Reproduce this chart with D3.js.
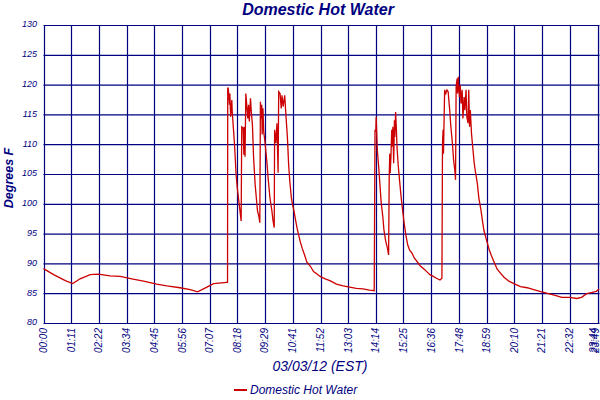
<!DOCTYPE html>
<html>
<head>
<meta charset="utf-8">
<script src="https://cdn.jsdelivr.net/npm/d3@7"></script>
<style>
  body { margin: 0; background: #fff; }
  text { font-family: "Liberation Sans", Arial, sans-serif; fill: #000080; }
</style>
</head>
<body>
<div id="chart"></div>
<script>
// Readings of the domestic hot water sensor, minutes after midnight / deg F
const times = [
  0, 26, 56, 75, 94, 120, 141, 171, 197, 227, 257, 291, 317, 351, 377, 396, 420, 437, 471,
  473, 473.5, 475, 478, 479, 481, 484, 485, 488, 491, 495, 498, 501, 505, 508,
  509.5, 513, 515, 516, 518, 520, 523, 525, 527, 529, 532, 534, 537, 540, 544, 547, 550, 554, 556,
  557.5, 559, 561, 562, 564, 566, 569, 574, 578, 582, 587, 590, 593,
  594, 597, 600, 603, 604.5, 608, 611, 613, 616, 620, 623, 627, 630, 633, 637, 640,
  644, 648, 652, 656, 660, 665, 671, 677, 686, 694, 703, 711, 724, 736, 753, 770, 787, 804, 821, 838, 850,
  852, 854, 855, 856, 858, 862, 865, 868, 872, 875, 879, 884, 887,
  888.5, 890, 891, 893, 895, 896, 898, 900, 902, 903, 905, 907, 909, 912, 915, 919, 923, 927, 932, 936,
  941, 947, 953, 960, 968, 977, 985, 993, 1002, 1010, 1019, 1024,
  1025.5, 1027, 1028, 1031, 1034, 1037, 1040, 1044, 1047, 1051, 1054, 1057, 1059,
  1060.5, 1063, 1064, 1066, 1067, 1069, 1071, 1073, 1076, 1078, 1081, 1083, 1086, 1088, 1091, 1093, 1095,
  1097, 1100, 1103, 1107, 1110, 1115, 1119, 1124, 1128, 1132, 1139, 1145, 1151, 1158, 1166, 1175, 1183,
  1196, 1209, 1226, 1243, 1260, 1280, 1298, 1315, 1332, 1353, 1370, 1383, 1396, 1408, 1421, 1428
];
const temps = [
  89.2, 88.2, 87.2, 86.7, 87.5, 88.2, 88.3, 88.0, 87.9, 87.5, 87.1, 86.6, 86.3, 86.0, 85.7, 85.3, 86.1, 86.7, 86.9,
  86.9, 119.6, 119.4, 116.7, 118.6, 114.7, 117.5, 115.6, 112.8, 110.0, 105.0, 102.8, 101.1, 98.9, 97.2,
  113.0, 112.8, 108.3, 113.0, 108.0, 118.6, 116.1, 114.4, 116.7, 113.9, 117.8, 115.6, 113.3, 107.8, 103.3, 101.1, 98.9, 97.8, 96.9,
  117.2, 114.4, 116.7, 111.7, 116.1, 112.2, 110.6, 107.2, 103.9, 101.1, 98.9, 97.2, 96.1,
  112.5, 110.3, 113.6, 105.3, 118.9, 118.6, 116.1, 118.3, 116.4, 118.3, 115.0, 111.1, 106.7, 103.9, 101.1, 100.0,
  98.8, 97.3, 95.9, 94.8, 93.7, 92.6, 91.5, 90.3, 89.6, 88.7, 88.3, 87.9, 87.5, 87.2, 86.6, 86.3, 86.1, 85.9, 85.8, 85.6, 85.5,
  112.5, 112.2, 114.7, 112.7, 109.1, 105.8, 103.0, 100.2, 98.0, 95.7, 94.0, 92.6, 91.5,
  104.6, 108.5, 105.2, 108.0, 112.5, 109.7, 113.0, 106.9, 114.1, 111.3, 115.5, 112.5, 109.1, 106.3, 104.1, 101.3, 99.0, 96.8, 94.6, 93.2,
  92.3, 91.8, 91.0, 90.4, 89.7, 89.2, 88.7, 88.2, 87.9, 87.6, 87.3, 87.6,
  110.2, 112.5, 108.5, 119.2, 118.6, 119.2, 118.9, 115.8, 113.0, 110.2, 107.4, 105.8, 104.1,
  119.7, 121.1, 118.6, 121.4, 119.7, 118.0, 120.0, 116.9, 119.2, 114.4, 118.0, 115.8, 119.2, 114.7, 113.6, 119.2, 113.0,
  115.8, 111.9, 109.7, 106.9, 105.5, 103.5, 101.0, 99.2, 97.3, 95.6, 93.9, 92.5, 91.4, 90.3, 89.1, 88.4, 87.8,
  87.1, 86.7, 86.2, 86.0, 85.7, 85.3, 85.0, 84.7, 84.4, 84.4, 84.2, 84.4, 85.0, 85.2, 85.4, 85.8
];

const xTickLabels = [
  '00:00', '01:11', '02:22', '03:34', '04:45', '05:56', '07:07', '08:18', '09:29', '10:41', '11:52',
  '13:03', '14:14', '15:25', '16:36', '17:48', '18:59', '20:10', '21:21', '22:32', '23:44', '23:49'
];
const yTicks = [80, 85, 90, 95, 100, 105, 110, 115, 120, 125, 130];

const chartTitle = 'Domestic Hot Water';
const xTitle = '03/03/12 (EST)';
const yTitle = 'Degrees F';
const seriesName = 'Domestic Hot Water';

const width = 600;
const height = 400;
const navy = '#000080';
const red = '#cc0000';

const toMinutes = s => +s.slice(0, 2) * 60 + +s.slice(3, 5);

const x = d3.scaleLinear()
  .domain([0, toMinutes(xTickLabels[xTickLabels.length - 1])])
  .range([43.5, 599.5]);
const y = d3.scaleLinear()
  .domain([80, 130])
  .range([323.5, 25.5]);

const svg = d3.select('#chart')
  .append('svg')
  .attr('width', width)
  .attr('height', height);

// grid
svg.append('g')
  .selectAll('line')
  .data(xTickLabels)
  .join('line')
  .attr('x1', d => Math.round(x(toMinutes(d))) + 0.5)
  .attr('x2', d => Math.round(x(toMinutes(d))) + 0.5)
  .attr('y1', y(130))
  .attr('y2', y(80))
  .attr('stroke', navy)
  .attr('stroke-width', 1.2);

svg.append('g')
  .selectAll('line')
  .data(yTicks)
  .join('line')
  .attr('x1', x(0))
  .attr('x2', x.range()[1])
  .attr('y1', d => y(d))
  .attr('y2', d => y(d))
  .attr('stroke', navy)
  .attr('stroke-width', 1.2);

// tick labels
svg.append('g')
  .selectAll('text')
  .data(yTicks)
  .join('text')
  .attr('x', 37)
  .attr('y', d => y(d))
  .attr('dy', '0.2em')
  .attr('text-anchor', 'end')
  .style('font-size', '9px')
  .style('font-style', 'italic')
  .text(d => d);

// the last two labels sit on top of each other at the right edge, keep them inside
const last = xTickLabels.length - 1;
svg.append('g')
  .selectAll('text')
  .data(xTickLabels)
  .join('text')
  .attr('transform', (d, i) => {
    const px = Math.min(x(toMinutes(d)) + 3.5, 599 - (last - i) * 2.5);
    return `translate(${px},328) rotate(-90)`;
  })
  .attr('text-anchor', 'end')
  .style('font-size', '10px')
  .style('font-style', 'italic')
  .text(d => d);

// the series
const line = d3.line()
  .x((d, i) => x(times[i]))
  .y(d => y(d));

svg.append('path')
  .datum(temps)
  .attr('fill', 'none')
  .attr('stroke', red)
  .attr('stroke-width', 1.3)
  .attr('d', line);

// titles
svg.append('text')
  .attr('x', 318)
  .attr('y', 15)
  .attr('text-anchor', 'middle')
  .style('font-size', '16px')
  .style('font-weight', 'bold')
  .style('font-style', 'italic')
  .text(chartTitle);

svg.append('text')
  .attr('x', 320)
  .attr('y', 371)
  .attr('text-anchor', 'middle')
  .style('font-size', '14px')
  .style('font-style', 'italic')
  .text(xTitle);

svg.append('text')
  .attr('transform', 'translate(13,178) rotate(-90)')
  .attr('text-anchor', 'middle')
  .style('font-size', '12.5px')
  .style('font-weight', 'bold')
  .style('font-style', 'italic')
  .text(yTitle);

// legend
const legend = svg.append('g').attr('transform', 'translate(234,390)');
legend.append('line')
  .attr('x1', 0)
  .attr('x2', 13)
  .attr('stroke', red)
  .attr('stroke-width', 2);
legend.append('text')
  .attr('x', 16)
  .attr('y', 4)
  .style('font-size', '12px')
  .style('font-style', 'italic')
  .text(seriesName);
</script>
</body>
</html>
